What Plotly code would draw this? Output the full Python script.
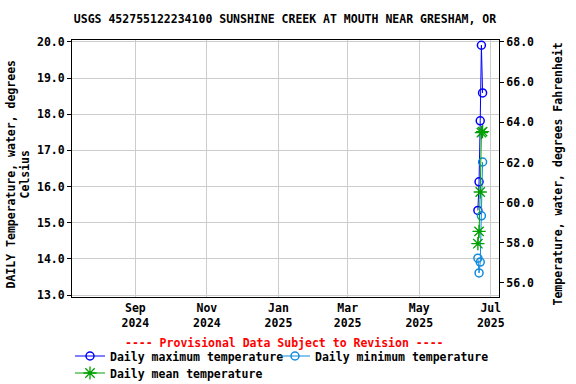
import plotly.graph_objects as go

dates = ["2025-06-20", "2025-06-21", "2025-06-22", "2025-06-23", "2025-06-24"]
tmax = [15.34, 16.13, 17.82, 19.91, 18.59]
tmin = [14.02, 13.61, 13.91, 15.19, 16.68]
tmean = [14.42, 14.76, 15.85, 17.49, 17.52]

xtick_vals = ["2024-09-01", "2024-11-01", "2025-01-01", "2025-03-01", "2025-05-01", "2025-07-01"]
xtick_text = ["Sep<br>2024", "Nov<br>2024", "Jan<br>2025", "Mar<br>2025", "May<br>2025", "Jul<br>2025"]
yticks_c = [13.0, 14.0, 15.0, 16.0, 17.0, 18.0, 19.0, 20.0]
yticks_f = [56.0, 58.0, 60.0, 62.0, 64.0, 66.0, 68.0]

title = "USGS 452755122234100 SUNSHINE CREEK AT MOUTH NEAR GRESHAM, OR"
FONT = "DejaVu Sans Mono"
FS = 11.5

c_lo, c_hi = 12.945, 20.055

fig = go.Figure()
fig.add_trace(go.Scatter(x=dates, y=tmax, mode="lines+markers", name="<b>Daily maximum temperature</b>",
                         line=dict(color="#0000FF", width=1), legend="legend",
                         marker=dict(symbol="circle-open", size=8, color="#0000FF", line=dict(width=1.5))))
fig.add_trace(go.Scatter(x=dates, y=tmin, mode="lines+markers", name="<b>Daily minimum temperature</b>",
                         line=dict(color="#118BDD", width=1), legend="legend2",
                         marker=dict(symbol="circle-open", size=8, color="#118BDD", line=dict(width=1.5))))
fig.add_trace(go.Scatter(x=dates, y=tmean, mode="lines+markers", name="<b>Daily mean temperature</b>",
                         line=dict(color="#00A000", width=1), legend="legend3",
                         marker=dict(symbol="asterisk-open", size=11, color="#00A000", line=dict(width=1.3))))
# invisible trace to attach right axis
fig.add_trace(go.Scatter(x=[dates[0]], y=[tmax[0] * 1.8 + 32], yaxis="y2", mode="markers",
                         marker=dict(opacity=0), showlegend=False, hoverinfo="skip"))

axfont = dict(family=FONT, size=FS, color="black")


def leg(xpx, ypx):
    return dict(orientation="h", xref="container", yref="container", x=xpx / 576, xanchor="left",
                y=1 - ypx / 384, yanchor="middle", font=dict(family=FONT, size=FS, color="black"),
                itemclick=False, bgcolor="rgba(0,0,0,0)", borderwidth=0)


fig.update_layout(
    width=576, height=384,
    margin=dict(l=72, r=77, t=40, b=87, autoexpand=False),
    paper_bgcolor="white", plot_bgcolor="white",
    font=dict(family=FONT, size=FS, color="black"),
    title=dict(text="<b>" + title + "</b>", x=285 / 576, xanchor="center", y=1 - 19 / 384, yanchor="middle",
               font=dict(family=FONT, size=FS, color="black")),
    xaxis=dict(type="date", range=["2024-07-09", "2025-07-08"], tickvals=xtick_vals,
               ticktext=["<b>" + t.replace("<br>", "</b><br><b>") + "</b>" for t in xtick_text],
               showgrid=True, gridcolor="#cccccc", gridwidth=1, showline=True, linecolor="black",
               linewidth=1, mirror=True, ticks="", tickfont=axfont, zeroline=False, automargin=False),
    yaxis=dict(range=[c_lo, c_hi], tickvals=yticks_c, ticktext=["<b>%.1f</b>" % v for v in yticks_c],
               showgrid=True, gridcolor="#cccccc", gridwidth=1, showline=True, linecolor="black",
               linewidth=1, mirror=True, ticks="outside", ticklen=4, tickcolor="black",
               tickfont=axfont, zeroline=False, automargin=False),
    yaxis2=dict(range=[c_lo * 1.8 + 32, c_hi * 1.8 + 32], overlaying="y", side="right",
                tickvals=yticks_f, ticktext=["<b>%.1f</b>" % v for v in yticks_f],
                showgrid=False, ticks="outside", ticklen=4, tickcolor="black",
                tickfont=axfont, zeroline=False, showline=False, automargin=False),
    showlegend=True,
    legend=leg(70, 356),
    legend2=leg(275, 356),
    legend3=leg(70, 373),
    annotations=[
        dict(text="<b>DAILY Temperature, water, degrees<br>Celsius</b>", textangle=-90,
             xref="paper", yref="paper", x=(18 - 72) / 427, y=0.5 - 6 / 257, xanchor="center", yanchor="middle",
             showarrow=False, font=dict(family=FONT, size=FS, color="black")),
        dict(text="<b>Temperature, water, degrees Fahrenheit</b>", textangle=-90,
             xref="paper", yref="paper", x=(557 - 72) / 427, y=0.5 - 6 / 257, xanchor="center", yanchor="middle",
             showarrow=False, font=dict(family=FONT, size=FS, color="black")),
        dict(text="<b>---- Provisional Data Subject to Revision ----</b>",
             xref="paper", yref="paper", x=(284 - 72) / 427, y=-(343 - 297) / 257, xanchor="center",
             yanchor="middle", showarrow=False, font=dict(family=FONT, size=FS, color="red")),
    ],
)

fig.write_html("out.html", config={"displayModeBar": False})

# remove the default page margin so the figure sits at the window's top-left corner
with open("out.html", "r", encoding="utf-8") as f:
    html = f.read()
html = html.replace("<body>", '<body style="margin:0;padding:0;overflow:hidden">', 1)
with open("out.html", "w", encoding="utf-8") as f:
    f.write(html)
